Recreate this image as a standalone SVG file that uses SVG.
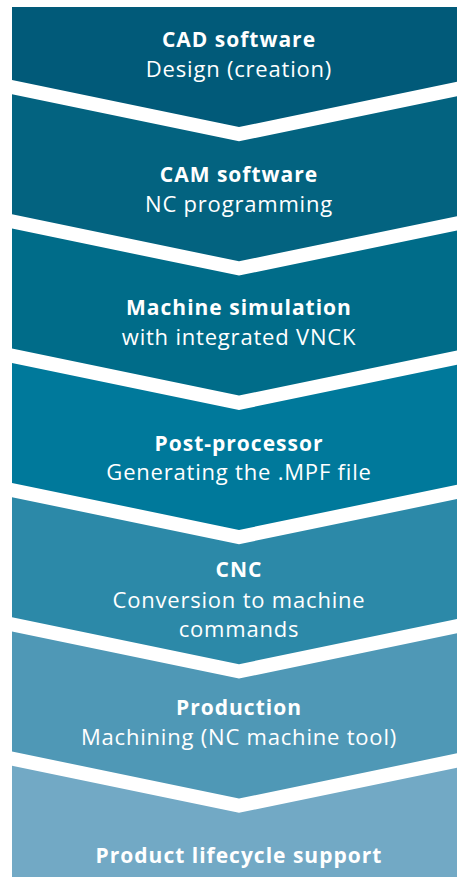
<svg xmlns="http://www.w3.org/2000/svg" width="457" height="877" viewBox="0 0 457 877">
<style>
.t{font-family:"Open Sans","Noto Sans","Liberation Sans",sans-serif;fill:#ffffff;text-anchor:middle;font-size:22px;letter-spacing:0.8px}
.b{font-weight:bold;font-size:21px;letter-spacing:1px}
</style>
<rect width="457" height="877" fill="#ffffff"/>
<g id="n1"><path d="M12 7 H466 V80 L239 127 L12 80 Z" fill="#015a79"/>
<text class="t b" x="239" y="47">CAD software</text><text class="t" x="239" y="77">Design (creation)</text></g>
<g id="n2"><path d="M12 94.3 L239 141.3 L466 94.3 V214.3 L239 261.3 L12 214.3 Z" fill="#036380"/>
<text class="t b" x="239" y="181.7">CAM software</text><text class="t" x="239" y="211.7">NC programming</text></g>
<g id="n3"><path d="M12 228.6 L239 275.6 L466 228.6 V348.6 L239 395.6 L12 348.6 Z" fill="#006c89"/>
<text class="t b" x="239" y="315">Machine simulation</text><text class="t" x="239" y="345">with integrated VNCK</text></g>
<g id="n4"><path d="M12 362.9 L239 409.9 L466 362.9 V482.9 L239 529.9 L12 482.9 Z" fill="#00799b"/>
<text class="t b" x="239" y="450.7">Post-processor</text><text class="t" x="239" y="480">Generating the .MPF file</text></g>
<g id="n5"><path d="M12 497.2 L239 544.2 L466 497.2 V617.2 L239 664.2 L12 617.2 Z" fill="#2c89a8"/>
<text class="t b" x="239" y="577.3">CNC</text><text class="t" x="239" y="608.3">Conversion to machine</text><text class="t" x="239" y="636.7">commands</text></g>
<g id="n6"><path d="M12 631.5 L239 678.5 L466 631.5 V751.5 L239 798.5 L12 751.5 Z" fill="#4f98b6"/>
<text class="t b" x="239" y="715">Production</text><text class="t" x="239" y="745">Machining (NC machine tool)</text></g>
<g id="n7"><path d="M12 765.8 L239 812.8 L466 765.8 V877 H12 Z" fill="#72a9c5"/>
<text class="t b" x="239" y="863.3">Product lifecycle support</text></g>
<g id="connectors"/>
</svg>
